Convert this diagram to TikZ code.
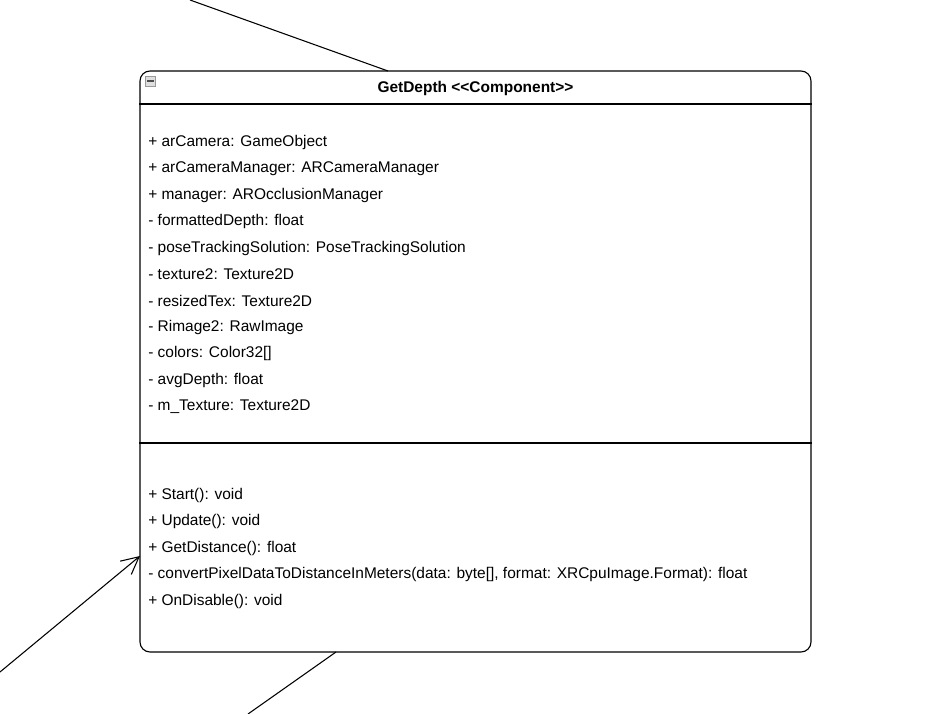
\documentclass[tikz,border=0pt]{standalone}
\usepackage{fontspec}
\setmainfont{Liberation Sans}
\usetikzlibrary{arrows.meta,positioning}
\tikzset{
  classbox/.style={
    draw,
    rounded corners=7.5pt,
    line width=0.85pt,
    minimum width=503.25pt,
    minimum height=435.75pt,
    inner sep=0pt
  },
  member/.style={
    anchor=west,
    inner sep=0pt,
    font=\fontsize{11.6pt}{13pt}\selectfont
  },
  link/.style={draw, line width=0.8pt},
  every edge/.style={draw, -{Straight Barb[length=13pt,width=13pt]}, line width=0.8pt}
}
\begin{document}
\begin{tikzpicture}[x=0.75pt,y=-0.75pt]
  \useasboundingbox (0,0) rectangle (951,714);
  \node[classbox] (comp) at (475.5,361.5) {};
  \node[font=\bfseries\fontsize{11.6pt}{13pt}\selectfont] (title) at (475.5,88.5) {GetDepth {<}{<}Component{>}{>}};
  \draw[line width=0.85pt] (comp.west |- 0,104) -- (comp.east |- 0,104);
  \draw[line width=0.85pt] (comp.west |- 0,443) -- (comp.east |- 0,443);
  % collapse icon
  \node[draw=gray!80, fill=gray!25, minimum size=7.5pt, inner sep=0pt] (icon) at (150.5,81) {};
  \draw[line width=1.5pt, black!70] ([xshift=-2.5pt]icon.center) -- ([xshift=2.5pt]icon.center);

  % attributes
  \node[member] (f1) at (148,142.5) {+ arCamera: GameObject};
  \node[member] (f2) at (148,168.9) {+ arCameraManager: ARCameraManager};
  \node[member] (f3) at (148,195.3) {+ manager: AROcclusionManager};
  \node[member] (f4) at (148,221.7) {- formattedDepth: float};
  \node[member] (f5) at (148,248.1) {- poseTrackingSolution: PoseTrackingSolution};
  \node[member] (f6) at (148,274.5) {- texture2: Texture2D};
  \node[member] (f7) at (148,300.9) {- resizedTex: Texture2D};
  \node[member] (f8) at (148,327.3) {- Rimage2: RawImage};
  \node[member] (f9) at (148,353.7) {- colors: Color32[]};
  \node[member] (f10) at (148,380.1) {- avgDepth: float};
  \node[member] (f11) at (148,406.5) {- m\_Texture: Texture2D};

  % methods
  \node[member] (m1) at (148,495.5) {+ Start(): void};
  \node[member] (m2) at (148,521.9) {+ Update(): void};
  \node[member] (m3) at (148,548.3) {+ GetDistance(): float};
  \node[member] (m4) at (148,574.7) {- convertPixelDataToDistanceInMeters(data: byte[], format: XRCpuImage.Format): float};
  \node[member] (m5) at (148,601.1) {+ OnDisable(): void};

  % connectors
  \coordinate (topfree) at (190,0);
  \coordinate (topend) at (388,71);
  \coordinate (leftfree) at (0,672);
  \coordinate (leftend) at (140,556);
  \coordinate (botfree) at (248,714);
  \coordinate (botend) at (336,652);
  \draw[link] (topfree) -- (topend);
  \draw[link] (botfree) -- (botend);
  \path (leftfree) edge (leftend);
\end{tikzpicture}
\end{document}
